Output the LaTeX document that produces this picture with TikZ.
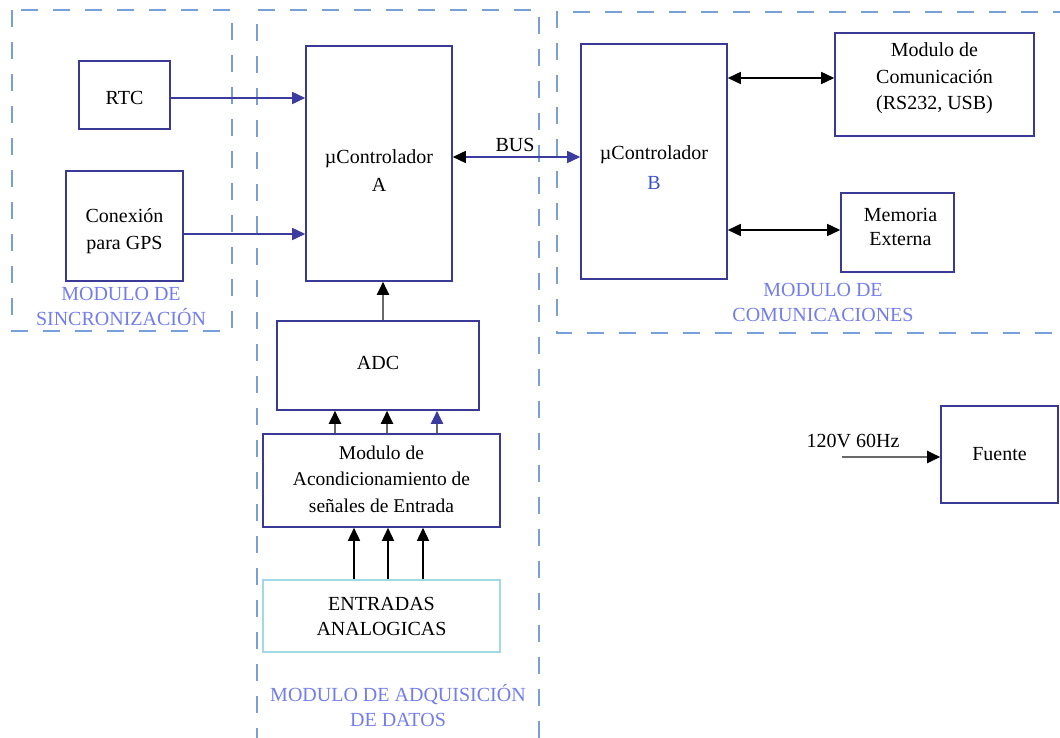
\documentclass[tikz,border=0pt]{standalone}
\usepackage{fontspec}
\setmainfont{Liberation Serif}
\usetikzlibrary{arrows.meta}
\definecolor{boxc}{RGB}{58,58,150}
\definecolor{dashc}{RGB}{120,160,215}
\definecolor{labc}{RGB}{115,125,235}
\definecolor{cyanc}{RGB}{160,218,232}
\definecolor{linec}{RGB}{60,60,160}
\definecolor{grayc}{RGB}{105,105,105}
\definecolor{bcol}{RGB}{60,80,200}
\begin{document}
\begin{tikzpicture}[x=1pt,y=-1pt,
  blk/.style={draw=boxc,line width=1.6pt,inner sep=0pt},
  inlbl/.style={align=center,font=\fontsize{20}{26.5}\selectfont},
  frame/.style={draw=dashc,line width=1.6pt,dash pattern=on 17pt off 15pt},
  modlabel/.style={text=labc,align=center,font=\fontsize{20}{25}\selectfont},
  txt/.style={font=\fontsize{20}{25}\selectfont,inner sep=0pt},
  bluearrow/.style={draw=linec,line width=1.6pt,-{Triangle[length=13pt,width=12pt]}},
  grayarrow/.style={draw=grayc,line width=2pt,-{Triangle[length=13pt,width=12pt,color=black]}},
  blackarrow/.style={draw=black,line width=1.6pt,-{Triangle[length=13pt,width=12pt]}},
  twoway/.style={draw=black,line width=1.6pt,{Triangle[length=13pt,width=12pt]}-{Triangle[length=13pt,width=12pt]}}
]
\useasboundingbox[fill=white] (0,0) rectangle (1060,738);

% module frames
\draw[frame] (12,10) rectangle (232,331);
\draw[frame] (257,745) -- (257,10) -- (539,10) -- (539,745);
\draw[frame] (1070,12) -- (557,12) -- (557,333) -- (1070,333);

% module labels
\node[modlabel] (lsync) at (121,306) {MODULO DE\\SINCRONIZACIÓN};
\node[modlabel] (lacq) at (398,706) {MODULO DE ADQUISICIÓN\\DE DATOS};
\node[modlabel] (lcom) at (823,302) {MODULO DE\\COMUNICACIONES};

% blocks
\node[blk,minimum width=91pt,minimum height=68pt,
  label={[inlbl,yshift=-3pt]center:RTC}] (rtc) at (124.5,95) {};
\node[blk,minimum width=117pt,minimum height=110pt,
  label={[inlbl,yshift=-5pt]center:Conexión\\para GPS}] (gps) at (124.5,226) {};
\node[blk,minimum width=146pt,minimum height=235pt,
  label={[inlbl,font=\fontsize{20}{28}\selectfont,yshift=-7.5pt]center:µControlador\\A}] (a) at (379,163.5) {};
\node[blk,minimum width=146pt,minimum height=235pt,
  label={[inlbl,font=\fontsize{20}{30}\selectfont,yshift=-6.5pt]center:µControlador\\\textcolor{bcol}{B}}] (b) at (654,161.5) {};
\node[blk,minimum width=199pt,minimum height=103pt,
  label={[inlbl,yshift=6pt]center:Modulo de\\Comunicación\\(RS232, USB)}] (com) at (934.5,84.5) {};
\node[blk,minimum width=113pt,minimum height=79pt,
  label={[inlbl,font=\fontsize{20}{24}\selectfont,yshift=5.5pt,xshift=3pt]center:Memoria\\Externa}] (mem) at (897.5,232.5) {};
\node[blk,minimum width=202pt,minimum height=89pt,
  label={[inlbl,yshift=3pt]center:ADC}] (adc) at (378,365.5) {};
\node[blk,minimum width=237pt,minimum height=93pt,
  label={[inlbl,font=\fontsize{19.5}{26.5}\selectfont,yshift=1.5pt]center:Modulo de\\Acondicionamiento de\\señales de Entrada}] (acond) at (381.5,480.5) {};
\node[blk,draw=cyanc,minimum width=237pt,minimum height=72pt,
  label={[inlbl,font=\fontsize{20}{25}\selectfont]center:ENTRADAS\\ANALOGICAS}] (ent) at (381.5,616) {};
\node[blk,minimum width=117pt,minimum height=97pt,
  label={[inlbl]center:Fuente}] (fue) at (999.5,454.5) {};

% text labels
\node[txt] (bus) at (515,145) {BUS};
\node[txt] (volt) at (853,441) {120V 60Hz};

% helper coordinates
\coordinate (yrtc) at (0,98);
\coordinate (ygps) at (0,234);
\coordinate (ybus) at (0,157);
\coordinate (ycom) at (0,78);
\coordinate (ymem) at (0,230);
\coordinate (xadc) at (383,0);
\coordinate (x1) at (335,0);
\coordinate (x2) at (387,0);
\coordinate (x3) at (437,0);
\coordinate (e1) at (354,0);
\coordinate (e2) at (388,0);
\coordinate (e3) at (423,0);
\coordinate (vstart) at (842,457);

% connectors
\draw[bluearrow] (rtc.east |- yrtc) -- (a.west |- yrtc);
\draw[bluearrow] (gps.east |- ygps) -- (a.west |- ygps);
\draw[draw=linec,line width=1.6pt,{Triangle[length=13pt,width=12pt,color=black]}-{Triangle[length=13pt,width=12pt]}] (a.east |- ybus) -- (b.west |- ybus);
\draw[twoway] (b.east |- ycom) -- (com.west |- ycom);
\draw[twoway] (b.east |- ymem) -- (mem.west |- ymem);
\draw[grayarrow] (adc.north -| xadc) -- (a.south -| xadc);
\draw[grayarrow] (acond.north -| x1) -- (adc.south -| x1);
\draw[grayarrow] (acond.north -| x2) -- (adc.south -| x2);
\draw[draw=grayc,line width=2pt,-{Triangle[length=13pt,width=12pt,color=linec]}] (acond.north -| x3) -- (adc.south -| x3);
\draw[blackarrow] (ent.north -| e1) -- (acond.south -| e1);
\draw[blackarrow] (ent.north -| e2) -- (acond.south -| e2);
\draw[blackarrow] (ent.north -| e3) -- (acond.south -| e3);
\draw[grayarrow] (vstart) -- (fue.west |- vstart);
\end{tikzpicture}
\end{document}
